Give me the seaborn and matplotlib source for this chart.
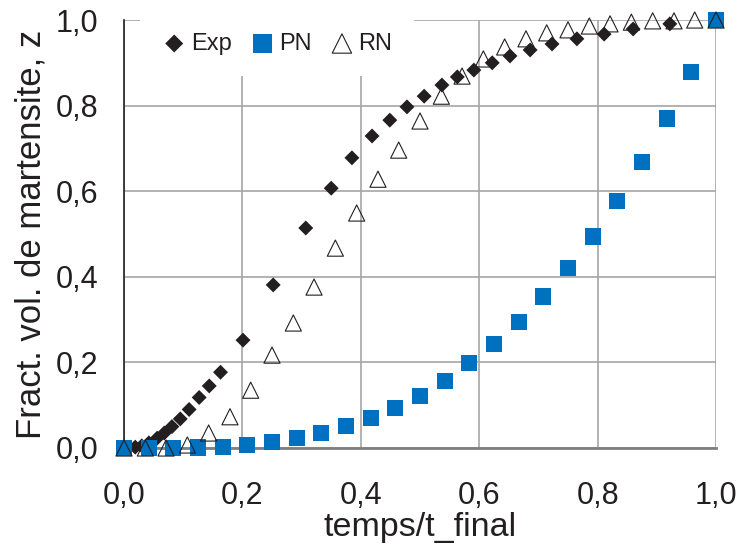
import numpy as np
import pandas as pd
import seaborn as sns
import matplotlib.pyplot as plt

# Data
exp_x = [0.0, 0.019, 0.030, 0.042, 0.056, 0.068, 0.081, 0.095, 0.110, 0.127, 0.144, 0.163,
         0.201, 0.252, 0.307, 0.350, 0.385, 0.419, 0.449, 0.478, 0.507, 0.537, 0.563, 0.591,
         0.622, 0.652, 0.686, 0.723, 0.765, 0.811, 0.860, 0.922, 1.0]
exp_y = [0.0, 0.002, 0.005, 0.012, 0.023, 0.035, 0.050, 0.068, 0.090, 0.118, 0.145, 0.177,
         0.252, 0.381, 0.514, 0.607, 0.678, 0.729, 0.766, 0.797, 0.822, 0.848, 0.867, 0.883,
         0.900, 0.916, 0.930, 0.944, 0.956, 0.967, 0.979, 0.991, 1.0]

pn_x = [0.0, 0.042, 0.083, 0.125, 0.167, 0.208, 0.25, 0.292, 0.333, 0.375, 0.417, 0.458, 0.5,
        0.542, 0.583, 0.625, 0.667, 0.708, 0.75, 0.792, 0.833, 0.875, 0.917, 0.958, 1.0]
pn_y = [0.0, 0.0, 0.0, 0.001, 0.003, 0.007, 0.014, 0.024, 0.035, 0.051, 0.070, 0.094, 0.122,
        0.157, 0.198, 0.242, 0.295, 0.354, 0.421, 0.494, 0.578, 0.668, 0.770, 0.879, 1.0]

rn_x = [0.0, 0.036, 0.071, 0.107, 0.143, 0.179, 0.214, 0.25, 0.286, 0.321, 0.357, 0.393, 0.429,
        0.464, 0.5, 0.536, 0.571, 0.607, 0.643, 0.679, 0.714, 0.75, 0.786, 0.821, 0.857, 0.893,
        0.929, 0.964, 1.0]
rn_y = [0.0, 0.0, 0.0, 0.007, 0.035, 0.073, 0.135, 0.217, 0.292, 0.376, 0.467, 0.549, 0.628,
        0.696, 0.764, 0.822, 0.869, 0.909, 0.937, 0.956, 0.970, 0.977, 0.986, 0.991, 0.995, 0.998,
        0.998, 1.0, 1.0]

major_ticks = [0.0, 0.2, 0.4, 0.6, 0.8, 1.0]
minor_ticks = [0.1, 0.3, 0.5, 0.7, 0.9]
tick_labels = ["0,0", "0,2", "0,4", "0,6", "0,8", "1,0"]

sns.set_style("white")
plt.rcParams['font.family'] = ['Liberation Sans', 'DejaVu Sans']

dark = '#231F20'
blue = '#0070C0'

fig = plt.figure(figsize=(7.39, 5.48), dpi=100)
ax = fig.add_axes([0.1678, 0.1825, 0.8011, 0.781])

# Series
sns.scatterplot(x=exp_x, y=exp_y, ax=ax, marker='D', s=58, color=dark, edgecolor='none',
                label='Exp', clip_on=False, zorder=3)
sns.scatterplot(x=pn_x, y=pn_y, ax=ax, marker='s', s=135, color=blue, edgecolor='none',
                label='PN', clip_on=False, zorder=4)
sns.scatterplot(x=rn_x, y=rn_y, ax=ax, marker='^', s=135, facecolor='none', edgecolor=dark,
                linewidth=0.8, label='RN', clip_on=False, zorder=5)

ax.set_xlim(0, 1)
ax.set_ylim(0, 1)
ax.set_xticks(major_ticks)
ax.set_xticklabels(tick_labels)
ax.set_yticks(major_ticks)
ax.set_yticklabels(tick_labels)
ax.set_xticks(minor_ticks, minor=True)
ax.set_yticks(minor_ticks, minor=True)

ax.grid(True, which='major', color='#A6A6A6', linewidth=1.2)
ax.set_axisbelow(True)

for s in ['top', 'right']:
    ax.spines[s].set_visible(False)
ax.spines['left'].set_color(dark)
ax.spines['left'].set_linewidth(1.2)
ax.spines['bottom'].set_color('#808080')
ax.spines['bottom'].set_linewidth(2)

ax.tick_params(axis='both', which='major', direction='inout', length=13, width=1.2,
               color=dark, labelsize=22, labelcolor=dark)
ax.tick_params(axis='both', which='minor', direction='in', length=7, width=1.2, color=dark)
ax.tick_params(axis='x', which='major', pad=17)
ax.tick_params(axis='y', which='major', pad=12)

ax.set_xlabel('temps/t_final', fontsize=24.5, color=dark, labelpad=1)
ax.set_ylabel('Fract. vol. de martensite, z', fontsize=25, color=dark, labelpad=6)

# legend box starts just right of the left axis, white box hides the grid behind it
leg = ax.legend(loc='upper left', bbox_to_anchor=(0.027, 1.02), ncol=3, fontsize=17,
                frameon=True, facecolor='white', edgecolor='none', framealpha=1,
                borderpad=0.9, borderaxespad=0, handlelength=1.1, handletextpad=0.15,
                columnspacing=0.75, markerscale=1.2)
leg.get_frame().set_boxstyle('square', pad=0)
leg.set_zorder(6)
for t in leg.get_texts():
    t.set_color(dark)

plt.savefig('out.png', dpi=100)
